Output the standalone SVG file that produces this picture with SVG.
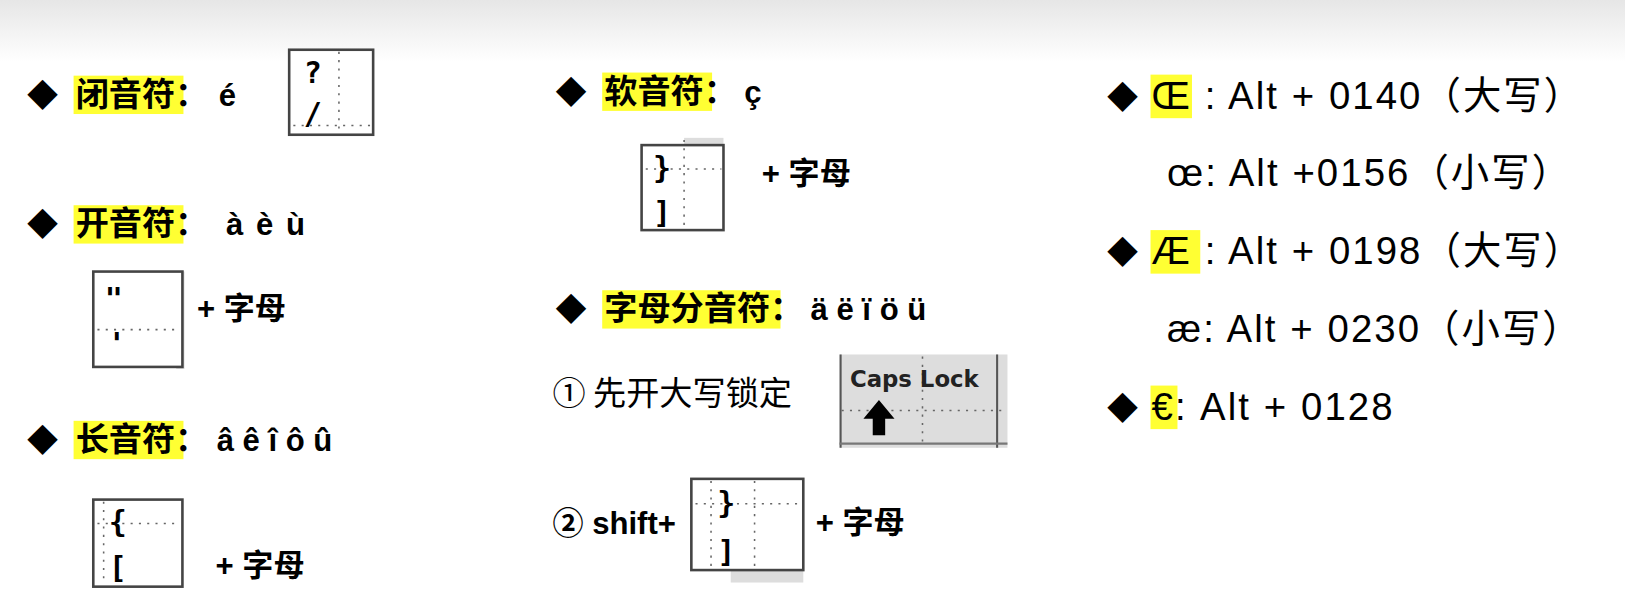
<svg xmlns="http://www.w3.org/2000/svg" width="1625" height="611" viewBox="0 0 1625 611">
<defs>
<linearGradient id="bg" x1="0" y1="0" x2="0" y2="1"><stop offset="0" stop-color="#e6e6e6"/><stop offset="1" stop-color="#ffffff"/></linearGradient>
</defs>
<style>
.t{font-family:"Liberation Sans","Noto Sans CJK SC",sans-serif;font-size:30px;font-weight:bold;fill:#000}
.c{font-family:"Noto Sans CJK SC",sans-serif;font-size:32px;font-weight:bold;fill:#000}
.r{font-family:"Liberation Sans","Noto Sans CJK SC",sans-serif;font-size:37px;fill:#000;letter-spacing:2px}
.hl{fill:#ffff33}
.box{fill:#fff;stroke:#444;stroke-width:2.5}
.dot{stroke:#666;stroke-width:1.5;stroke-dasharray:2 6;fill:none}
.k{font-family:"DejaVu Sans Mono",monospace;font-size:29px;font-weight:bold;fill:#000}
</style>
<rect width="1625" height="62" fill="url(#bg)"/>
<g transform="scale(1.0365)">
<g id="close">
<rect class="hl" x="71" y="73" width="106" height="37"/>
<text class="t" x="26" y="102">◆</text>
<text class="c" x="73" y="102">闭音符：</text><text class="t" x="211" y="102">é</text>
<rect class="box" x="279" y="48" width="81" height="82"/>
<line class="dot" x1="327" y1="50" x2="327" y2="128"/><line class="dot" x1="283" y1="121" x2="358" y2="121"/>
<text class="k" x="293" y="80">?</text><text class="k" x="293" y="120">/</text>
</g>
<g id="open">
<rect class="hl" x="71" y="198" width="106" height="37"/>
<text class="t" x="26" y="227">◆</text>
<text class="c" x="73" y="227">开音符：</text><text class="t" x="218" y="227" letter-spacing="2">à è ù</text>
<rect x="170" y="262" width="8" height="94" fill="#ddd"/>
<rect class="box" x="90" y="262" width="86" height="92"/>
<line class="dot" x1="94" y1="318" x2="174" y2="318"/>
<text class="k" x="101" y="298">"</text><text class="k" x="104" y="342">'</text>
<text class="t" x="190" y="308">+ 字母</text>
</g>
<g id="long">
<rect class="hl" x="71" y="406" width="106" height="37"/>
<text class="t" x="26" y="435">◆</text>
<text class="c" x="73" y="435">长音符：</text><text class="t" x="209" y="435">â ê î ô û</text>
<rect class="box" x="90" y="482" width="86" height="84"/>
<line class="dot" x1="100" y1="484" x2="100" y2="564"/><line class="dot" x1="94" y1="505" x2="174" y2="505"/>
<text class="k" x="105" y="513">{</text><text class="k" x="105" y="558">[</text>
<text class="t" x="208" y="556">+ 字母</text>
</g>
<g id="cedilla">
<rect class="hl" x="581" y="70" width="106" height="37"/>
<text class="t" x="536" y="99">◆</text>
<text class="c" x="583" y="99">软音符：</text><text class="t" x="718" y="99">ç</text>
<rect x="660" y="133" width="38" height="20" fill="#ddd"/>
<rect class="box" x="619" y="140" width="79" height="82"/>
<line class="dot" x1="660" y1="135" x2="660" y2="220"/><line class="dot" x1="623" y1="163" x2="696" y2="163"/>
<text class="k" x="630" y="172">}</text><text class="k" x="630" y="215">]</text>
<text class="t" x="735" y="178">+ 字母</text>
</g>
<g id="umlaut">
<rect class="hl" x="581" y="280" width="172" height="37"/>
<text class="t" x="536" y="309">◆</text>
<text class="c" x="583" y="309">字母分音符：</text><text class="t" x="782" y="309">ä ë ï ö ü</text>
<text class="c" x="533" y="391" style="font-weight:normal">① 先开大写锁定</text>
<rect x="810" y="342" width="162" height="90" fill="#ddd"/>
<line x1="811" y1="342" x2="811" y2="432" stroke="#555" stroke-width="2"/>
<line x1="962" y1="342" x2="962" y2="432" stroke="#555" stroke-width="2"/>
<line x1="810" y1="428" x2="972" y2="428" stroke="#777" stroke-width="2"/>
<line class="dot" x1="812" y1="396" x2="970" y2="396"/><line class="dot" x1="890" y1="344" x2="890" y2="430"/>
<text x="820" y="373" style="font-family:'DejaVu Sans',sans-serif;font-size:22px;font-weight:bold;fill:#222">Caps Lock</text>
<polygon points="848,386 833,404 842,404 842,420 854,420 854,404 863,404" fill="#000"/>
<text class="t" x="533" y="515">② shift+</text>
<rect x="705" y="540" width="70" height="22" fill="#ddd"/>
<rect class="box" x="667" y="462" width="108" height="88"/>
<line class="dot" x1="686" y1="464" x2="686" y2="548"/><line class="dot" x1="728" y1="464" x2="728" y2="548"/>
<line class="dot" x1="671" y1="486" x2="773" y2="486"/>
<text class="k" x="692" y="495">}</text><text class="k" x="692" y="542">]</text>
<text class="t" x="787" y="514">+ 字母</text>
</g>
<g id="ligatures">
<rect class="hl" x="1110" y="72" width="40" height="42"/>
<text class="t" x="1068" y="104">◆</text>
<text class="r" x="1111" y="105">Œ : Alt + 0140（大写）</text>
<text class="r" x="1126" y="179">œ: Alt +0156（小写）</text>
<rect class="hl" x="1110" y="222" width="48" height="42"/>
<text class="t" x="1068" y="254">◆</text>
<text class="r" x="1111" y="255">Æ : Alt + 0198（大写）</text>
<text class="r" x="1126" y="330">æ: Alt + 0230（小写）</text>
<rect class="hl" x="1110" y="372" width="26" height="42"/>
<text class="t" x="1068" y="404">◆</text>
<text class="r" x="1111" y="405">€:<tspan dx="12">Alt + 0128</tspan></text>
</g>
</g>
</svg>
